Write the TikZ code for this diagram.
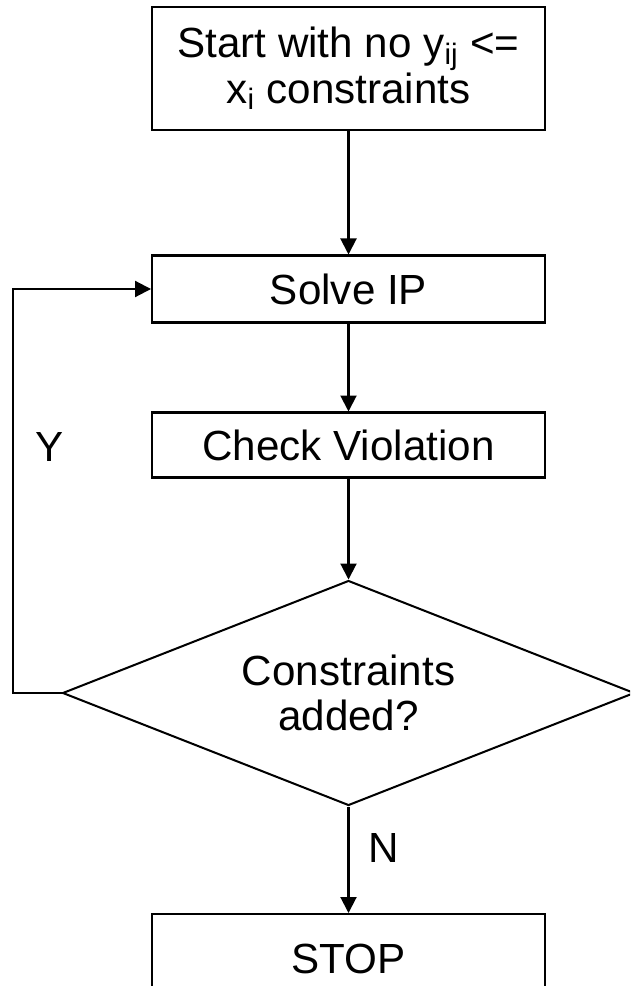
\documentclass[tikz,border=0pt]{standalone}
\usepackage{fontspec}
\setmainfont{Liberation Sans}
\usepackage{tikz}
\usetikzlibrary{arrows.meta,calc,positioning,shapes.geometric}

\begin{document}
\begin{tikzpicture}[x=0.02cm,y=-0.02cm,
		every node/.style={font=\fontsize{24}{26}\selectfont},
		flowbox/.style={draw,line width=1.15pt,minimum width=7.86cm,inner sep=0pt,align=center},
		decision/.style={draw,diamond,line width=1.15pt,minimum width=11.44cm,minimum height=4.5cm,aspect=2.54,inner sep=0pt,align=center},
		flow/.style={line width=1.15pt,-{Triangle[length=0.32cm,width=0.32cm]}}]
				\clip (0,0) rectangle (630,986);
				\useasboundingbox (0,0) rectangle (630,986);
				\node[flowbox,minimum height=2.46cm] (start) at (348.5,68.5) {Start with no y\textsubscript{ij} <=\\x\textsubscript{i} constraints};
				\node[flowbox,minimum height=1.34cm] (solve) at (348.5,289) {Solve IP};
				\node[flowbox,minimum height=1.3cm] (check) at (348.5,445) {Check Violation};
				\node[decision] (added) at (348.5,693) {Constraints\\added?};
				\node[flowbox,minimum height=1.8cm] (stop) at (348.5,959) {STOP};
				\node (y) at (50,447) {Y};
				\node (n) at (384,848) {N};
				\coordinate (loop) at (13,693);
				\draw[flow] (start) to (solve); %down
				\draw[flow] (solve) to (check);
				\draw[flow] (check) to (added);
				\draw[flow] (added) to (stop);
				\draw[flow] (added.west) -- (loop) |- (solve.west); %back
	\end{tikzpicture}
\end{document}
